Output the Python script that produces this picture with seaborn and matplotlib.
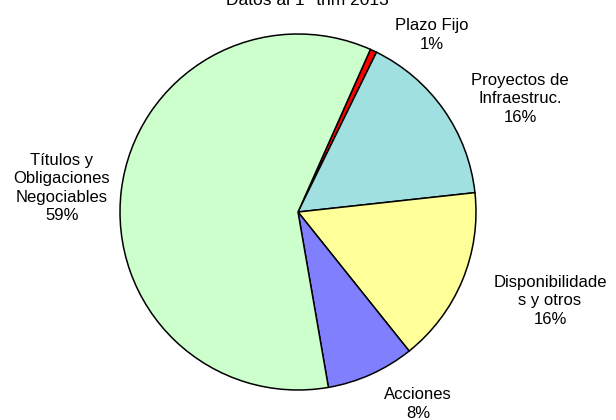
import numpy as np
import matplotlib
matplotlib.use("Agg")
import matplotlib.pyplot as plt
import seaborn as sns

# composicion de la cartera, 1er trimestre 2013
categorias = ["Plazo Fijo", "Proyectos de\nInfraestruc.", "Disponibilidade\ns y otros",
              "Acciones", "Títulos y\nObligaciones\nNegociables"]
valores = [0.6, 16.0, 16.0, 8.0, 59.4]
colores = ["#FF0000", "#A0E0E0", "#FFFF99", "#8080FF", "#CCFFCC"]

# donde van las etiquetas (en radios del circulo)
pos_etiquetas = [(0.753, 0.994), (1.247, 0.635), (1.416, -0.5),
                 (0.675, -1.079), (-1.326, 0.135)]

sns.set_theme(style="white")
plt.rcParams["font.family"] = ["Liberation Sans", "DejaVu Sans"]

fig = plt.figure(figsize=(6.16, 4.2), dpi=100)
ax = fig.add_axes([0, 0, 1, 1])

total = sum(valores)
etiquetas = [f"{c}\n{round(v / total * 100):.0f}%" for c, v in zip(categorias, valores)]

wedges, textos = ax.pie(valores, colors=colores, startangle=66, counterclock=False,
                        labels=etiquetas, radius=1,
                        wedgeprops=dict(edgecolor="black", linewidth=1.1),
                        textprops=dict(fontsize=12, color="black", linespacing=1.3))

for t, (x, y) in zip(textos, pos_etiquetas):
    t.set_position((x, y))
    t.set_ha("center")
    t.set_va("center")
    t.set_multialignment("center")

# escala: 178 px por unidad, centro en (298, 212) desde arriba
r_px = 178.0
ax.set_xlim(-298 / r_px, (616 - 298) / r_px)
ax.set_ylim(-(420 - 212) / r_px, 212 / r_px)
ax.axis("off")

# el titulo queda cortado arriba, igual que en el original
fig.text(307 / 616, 1 - 5 / 420, "Datos al 1° trim 2013", ha="center", va="baseline",
         fontsize=12.5, color="black")

fig.savefig("out.png", dpi=100, facecolor="white")
